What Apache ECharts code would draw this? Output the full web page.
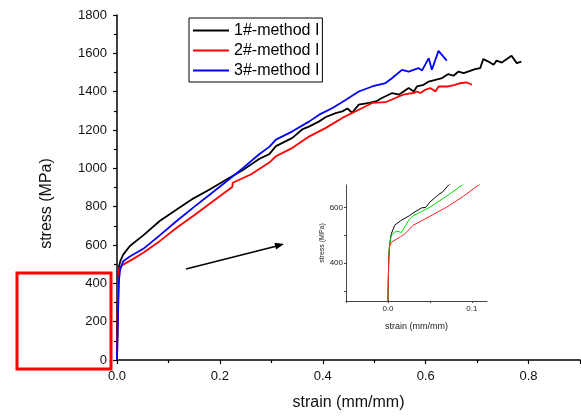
<!DOCTYPE html>
<html>
<head>
<meta charset="utf-8">
<script src="https://cdn.jsdelivr.net/npm/echarts@6/dist/echarts.min.js"></script>
<style>
  html, body { margin: 0; padding: 0; background: #fff; }
  #chart { width: 581px; height: 416px; }
</style>
</head>
<body>
<div id="chart"></div>
<script>
// main curves: strain (mm/mm) / stress (MPa)
var names = ['1#-method I', '2#-method I', '3#-method I'];

var strain1 = [0, 0.001, 0.002, 0.004, 0.007, 0.012, 0.025, 0.051, 0.083, 0.116, 0.148, 0.18, 0.212, 0.244, 0.277, 0.296,
  0.309, 0.341, 0.361, 0.374, 0.393, 0.406, 0.425, 0.438, 0.448, 0.457, 0.470, 0.490, 0.503, 0.515, 0.535, 0.548,
  0.557, 0.567, 0.577, 0.583, 0.596, 0.606, 0.619, 0.632, 0.644, 0.654, 0.664, 0.674, 0.696, 0.706, 0.712, 0.722,
  0.732, 0.738, 0.748, 0.767, 0.777, 0.786];
var stress1 = [0, 200, 400, 490, 520, 550, 595, 650, 725, 785, 842, 890, 940, 990, 1050, 1074,
  1116, 1159, 1205, 1219, 1245, 1268, 1288, 1297, 1312, 1290, 1332, 1341, 1349, 1367, 1393, 1384,
  1401, 1419, 1401, 1427, 1436, 1453, 1462, 1471, 1492, 1483, 1505, 1497, 1518, 1523, 1570, 1557,
  1540, 1562, 1552, 1587, 1549, 1557];

var strain2 = [0, 0.001, 0.002, 0.004, 0.01, 0.03, 0.051, 0.083, 0.116, 0.15, 0.18, 0.224, 0.225, 0.228, 0.26, 0.296,
  0.309, 0.341, 0.374, 0.406, 0.438, 0.470, 0.496, 0.522, 0.548, 0.557, 0.564, 0.577, 0.583, 0.590, 0.599, 0.609,
  0.619, 0.625, 0.644, 0.657, 0.667, 0.680, 0.690];
var stress2 = [0, 200, 400, 475, 495, 525, 560, 620, 690, 755, 815, 903, 925, 915, 968, 1030,
  1063, 1107, 1167, 1211, 1263, 1306, 1341, 1345, 1375, 1384, 1388, 1393, 1401, 1393, 1410, 1419,
  1401, 1427, 1427, 1436, 1444, 1448, 1436];

var strain3 = [0, 0.002, 0.004, 0.006, 0.012, 0.025, 0.051, 0.083, 0.116, 0.148, 0.18, 0.212, 0.244, 0.277, 0.296,
  0.309, 0.341, 0.374, 0.393, 0.419, 0.445, 0.470, 0.496, 0.522, 0.535, 0.554, 0.567, 0.586, 0.593, 0.606, 0.612,
  0.625, 0.641];
var stress3 = [0, 250, 420, 470, 515, 540, 580, 650, 725, 795, 862, 930, 1000, 1075, 1112,
  1150, 1193, 1245, 1280, 1315, 1358, 1401, 1427, 1445, 1471, 1514, 1505, 1523, 1511, 1575, 1514,
  1613, 1562];

// inset (zoom near yield)
var insetStrainK = [0, 0.0005, 0.001, 0.002, 0.004, 0.008, 0.015, 0.026, 0.03, 0.04, 0.045, 0.05, 0.055, 0.06, 0.065, 0.072, 0.075];
var insetStressK = [265, 350, 420, 470, 505, 536, 552, 571, 580, 598, 600, 619, 632, 645, 655, 679, 685];
var insetStrainG = [0, 0.0005, 0.001, 0.002, 0.004, 0.008, 0.012, 0.016, 0.02, 0.025, 0.03, 0.04, 0.05, 0.07, 0.088, 0.09];
var insetStressG = [265, 360, 430, 470, 500, 512, 514, 510, 530, 555, 570, 585, 601, 640, 679, 683];
var insetStrainR = [0, 0.0005, 0.001, 0.002, 0.004, 0.0063, 0.015, 0.02, 0.03, 0.05, 0.07, 0.09, 0.1075, 0.11];
var insetStressR = [265, 350, 420, 460, 475, 482, 495, 505, 536, 568, 601, 640, 679, 684];

function pairs(xs, ys) {
    var out = [];
    for (var i = 0; i < xs.length; i++) {
        out.push([xs[i], ys[i]]);
    }
    return out;
}

var font = "'Liberation Sans', Arial, sans-serif";

var chart = echarts.init(document.getElementById('chart'));
var option = {
    animation: false,
    backgroundColor: '#fff',
    textStyle: { fontFamily: font },
    grid: [
        { left: 117, top: 15, right: 1, bottom: 55 },
        { left: 346, top: 185, width: 141, height: 116 }
    ],
    legend: {
        data: names,
        orient: 'vertical',
        left: 189,
        top: 18,
        padding: [4, 3, 3, 4],
        icon: 'rect',
        itemWidth: 36,
        itemHeight: 2,
        itemGap: 3,
        borderColor: '#000',
        borderWidth: 1,
        backgroundColor: '#fff',
        textStyle: { fontSize: 16, color: '#000', fontFamily: font, lineHeight: 17 }
    },
    xAxis: [{
        gridIndex: 0,
        type: 'value',
        min: 0,
        max: 0.9,
        interval: 0.2,
        name: 'strain (mm/mm)',
        nameLocation: 'middle',
        nameGap: 35,
        nameTextStyle: { fontSize: 16, color: '#111' },
        axisLine: { lineStyle: { color: '#000', width: 1.5 } },
        axisTick: { length: 4, lineStyle: { color: '#000', width: 1.2 } },
        minorTick: { show: true, splitNumber: 2, length: 3, lineStyle: { color: '#000', width: 1.2 } },
        splitLine: { show: false },
        axisLabel: {
            fontSize: 13, color: '#111', margin: 10, showMaxLabel: false,
            formatter: function (v) { return v.toFixed(1); }
        }
    }, {
        gridIndex: 1,
        type: 'value',
        min: -0.05,
        max: 0.118,
        name: 'strain (mm/mm)',
        nameLocation: 'middle',
        nameGap: 21,
        nameTextStyle: { fontSize: 9, color: '#222' },
        axisLine: { onZero: false, lineStyle: { color: '#444', width: 1 } },
        axisTick: { length: 2, customValues: [-0.05, 0, 0.05, 0.1], lineStyle: { color: '#444' } },
        splitLine: { show: false },
        axisLabel: {
            fontSize: 8, color: '#222', margin: 4, customValues: [0, 0.1],
            formatter: function (v) { return v.toFixed(1); }
        }
    }],
    yAxis: [{
        gridIndex: 0,
        type: 'value',
        min: 0,
        max: 1800,
        interval: 200,
        name: 'stress (MPa)',
        nameLocation: 'middle',
        nameGap: 62,
        nameTextStyle: { fontSize: 16, color: '#111', padding: [0, 32, 0, 0] },
        axisLine: { show: true, lineStyle: { color: '#000', width: 1.5 } },
        axisTick: { show: true, length: 4, lineStyle: { color: '#000', width: 1.2 } },
        minorTick: { show: true, splitNumber: 2, length: 3, lineStyle: { color: '#000', width: 1.2 } },
        splitLine: { show: false },
        axisLabel: {
            fontSize: 13, color: '#111', margin: 10,
            formatter: function (v) { return String(v); }
        }
    }, {
        gridIndex: 1,
        type: 'value',
        min: 265,
        max: 680,
        name: 'stress (MPa)',
        nameLocation: 'middle',
        nameGap: 20,
        nameTextStyle: { fontSize: 7, color: '#222' },
        axisLine: { show: true, onZero: false, lineStyle: { color: '#444', width: 1 } },
        axisTick: { show: true, length: 2, customValues: [300, 400, 500, 600], lineStyle: { color: '#444' } },
        splitLine: { show: false },
        axisLabel: {
            fontSize: 8, color: '#222', margin: 3, customValues: [400, 600],
            formatter: function (v) { return String(v); }
        }
    }],
    graphic: [{
        type: 'rect',
        shape: { x: 17, y: 273, width: 94, height: 96 },
        style: { fill: 'none', stroke: '#ff0000', lineWidth: 3 }
    }, {
        type: 'line',
        shape: { x1: 186, y1: 269, x2: 277, y2: 246 },
        style: { stroke: '#000', lineWidth: 1.5 }
    }, {
        type: 'polygon',
        shape: { points: [[284, 244], [276.1, 249.6], [274.4, 242.8]] },
        style: { fill: '#000' }
    }],
    series: [{
        name: names[0],
        type: 'line',
        xAxisIndex: 0, yAxisIndex: 0,
        symbol: 'none',
        lineStyle: { color: '#000', width: 1.8 },
        itemStyle: { color: '#000' },
        data: pairs(strain1, stress1)
    }, {
        name: names[1],
        type: 'line',
        xAxisIndex: 0, yAxisIndex: 0,
        symbol: 'none',
        lineStyle: { color: '#ff0000', width: 1.8 },
        itemStyle: { color: '#ff0000' },
        data: pairs(strain2, stress2)
    }, {
        name: names[2],
        type: 'line',
        xAxisIndex: 0, yAxisIndex: 0,
        symbol: 'none',
        lineStyle: { color: '#0000ff', width: 1.8 },
        itemStyle: { color: '#0000ff' },
        data: pairs(strain3, stress3)
    }, {
        name: 'inset-1',
        type: 'line',
        xAxisIndex: 1, yAxisIndex: 1,
        symbol: 'none',
        lineStyle: { color: '#000', width: 1 },
        data: pairs(insetStrainK, insetStressK)
    }, {
        name: 'inset-3',
        type: 'line',
        xAxisIndex: 1, yAxisIndex: 1,
        symbol: 'none',
        lineStyle: { color: '#00e000', width: 1 },
        data: pairs(insetStrainG, insetStressG)
    }, {
        name: 'inset-2',
        type: 'line',
        xAxisIndex: 1, yAxisIndex: 1,
        symbol: 'none',
        lineStyle: { color: '#ff2020', width: 1 },
        data: pairs(insetStrainR, insetStressR)
    }]
};
chart.setOption(option);
</script>
</body>
</html>
